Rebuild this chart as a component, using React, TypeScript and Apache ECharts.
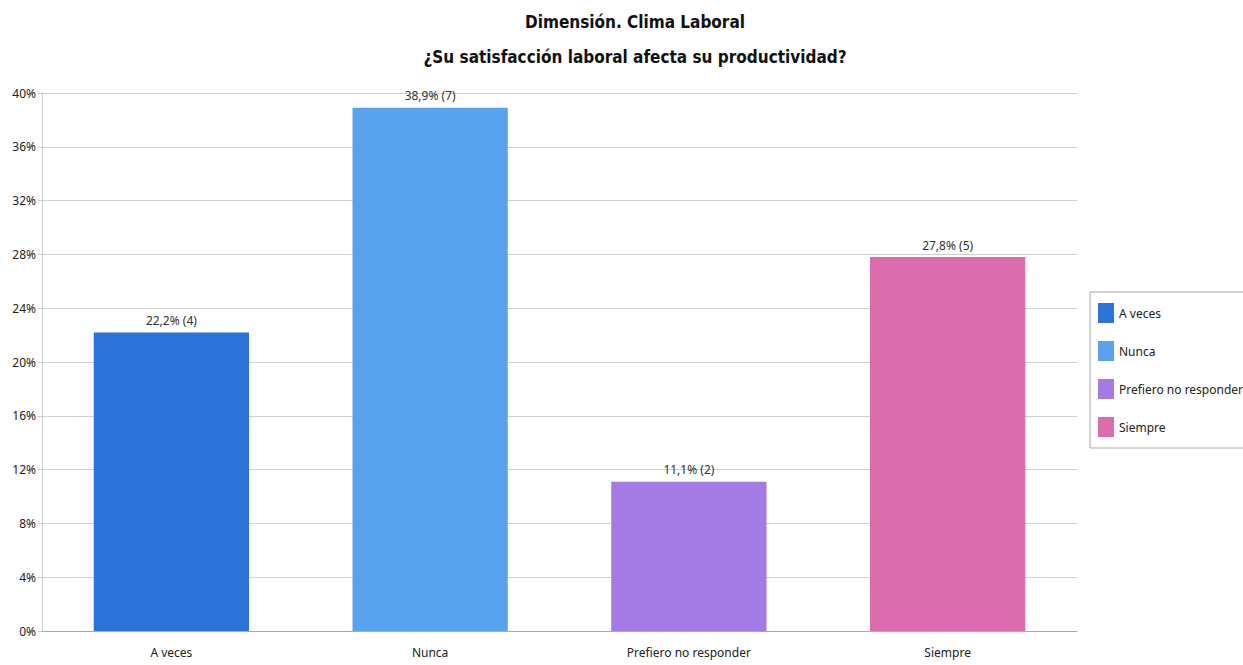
import React, { useEffect, useRef } from "react";
import * as echarts from "echarts";

const categories = ["A veces", "Nunca", "Prefiero no responder", "Siempre"];
const percents = [22.2, 38.9, 11.1, 27.8];
const counts = [4, 7, 2, 5];
const colors = ["#2B72D9", "#59A2EE", "#A47BE5", "#DB6DAE"];
const yTicks = { min: 0, max: 40, interval: 4 };

export default function App() {
  const ref = useRef<HTMLDivElement>(null);
  useEffect(() => {
    document.body.style.margin = "0";
    const chart = echarts.init(ref.current!, null, { renderer: "svg" });
    const series = categories.map((name, i) => ({
      name,
      type: "bar",
      stack: "all",
      barWidth: "60%",
      itemStyle: { color: colors[i] },
      label: {
        show: true,
        position: "top",
        distance: 6,
        color: "#333",
        fontSize: 12,
        fontFamily: "Noto Sans",
        formatter: () =>
          `${percents[i].toFixed(1).replace(".", ",")}% (${counts[i]})`,
      },
      data: categories.map((_, j) => (j === i ? percents[i] : null)),
    }));
    chart.setOption({
      animation: false,
      backgroundColor: "#fff",
      title: {
        text: "Dimensión. Clima Laboral\n¿Su satisfacción laboral afecta su productividad?",
        left: 630,
        textAlign: "center",
        top: -1,
        textStyle: {
          fontFamily: "DejaVu Sans Condensed, sans-serif",
          fontWeight: "bold",
          fontSize: 17,
          lineHeight: 35,
          color: "#111",
        },
      },
      legend: {
        orient: "vertical",
        left: 1090,
        top: 292,
        padding: [11, 8, 11, 8],
        itemGap: 18,
        itemWidth: 16,
        itemHeight: 20,
        icon: "rect",
        borderColor: "#aaa",
        borderWidth: 1,
        backgroundColor: "#fff",
        textStyle: { fontSize: 12, fontFamily: "Noto Sans", color: "#222" },
        data: categories,
      },
      grid: { left: 42, right: 166, top: 93, bottom: 34 },
      xAxis: {
        type: "category",
        data: categories,
        axisTick: { show: false },
        axisLine: { lineStyle: { color: "#aaa" } },
        axisLabel: { color: "#222", fontSize: 12, fontFamily: "Noto Sans", margin: 15 },
      },
      yAxis: {
        type: "value",
        min: yTicks.min,
        max: yTicks.max,
        interval: yTicks.interval,
        axisLine: { show: true, lineStyle: { color: "#ccc" } },
        axisTick: { show: true, length: 4, lineStyle: { color: "#ccc" } },
        splitLine: { lineStyle: { color: "#d0d0d0" } },
        axisLabel: {
          formatter: "{value}%",
          color: "#222",
          fontSize: 12,
          fontFamily: "Noto Sans",
          margin: 6,
        },
      },
      series,
    });
    return () => chart.dispose();
  }, []);
  return <div ref={ref} style={{ width: 1243, height: 665 }} />;
}
